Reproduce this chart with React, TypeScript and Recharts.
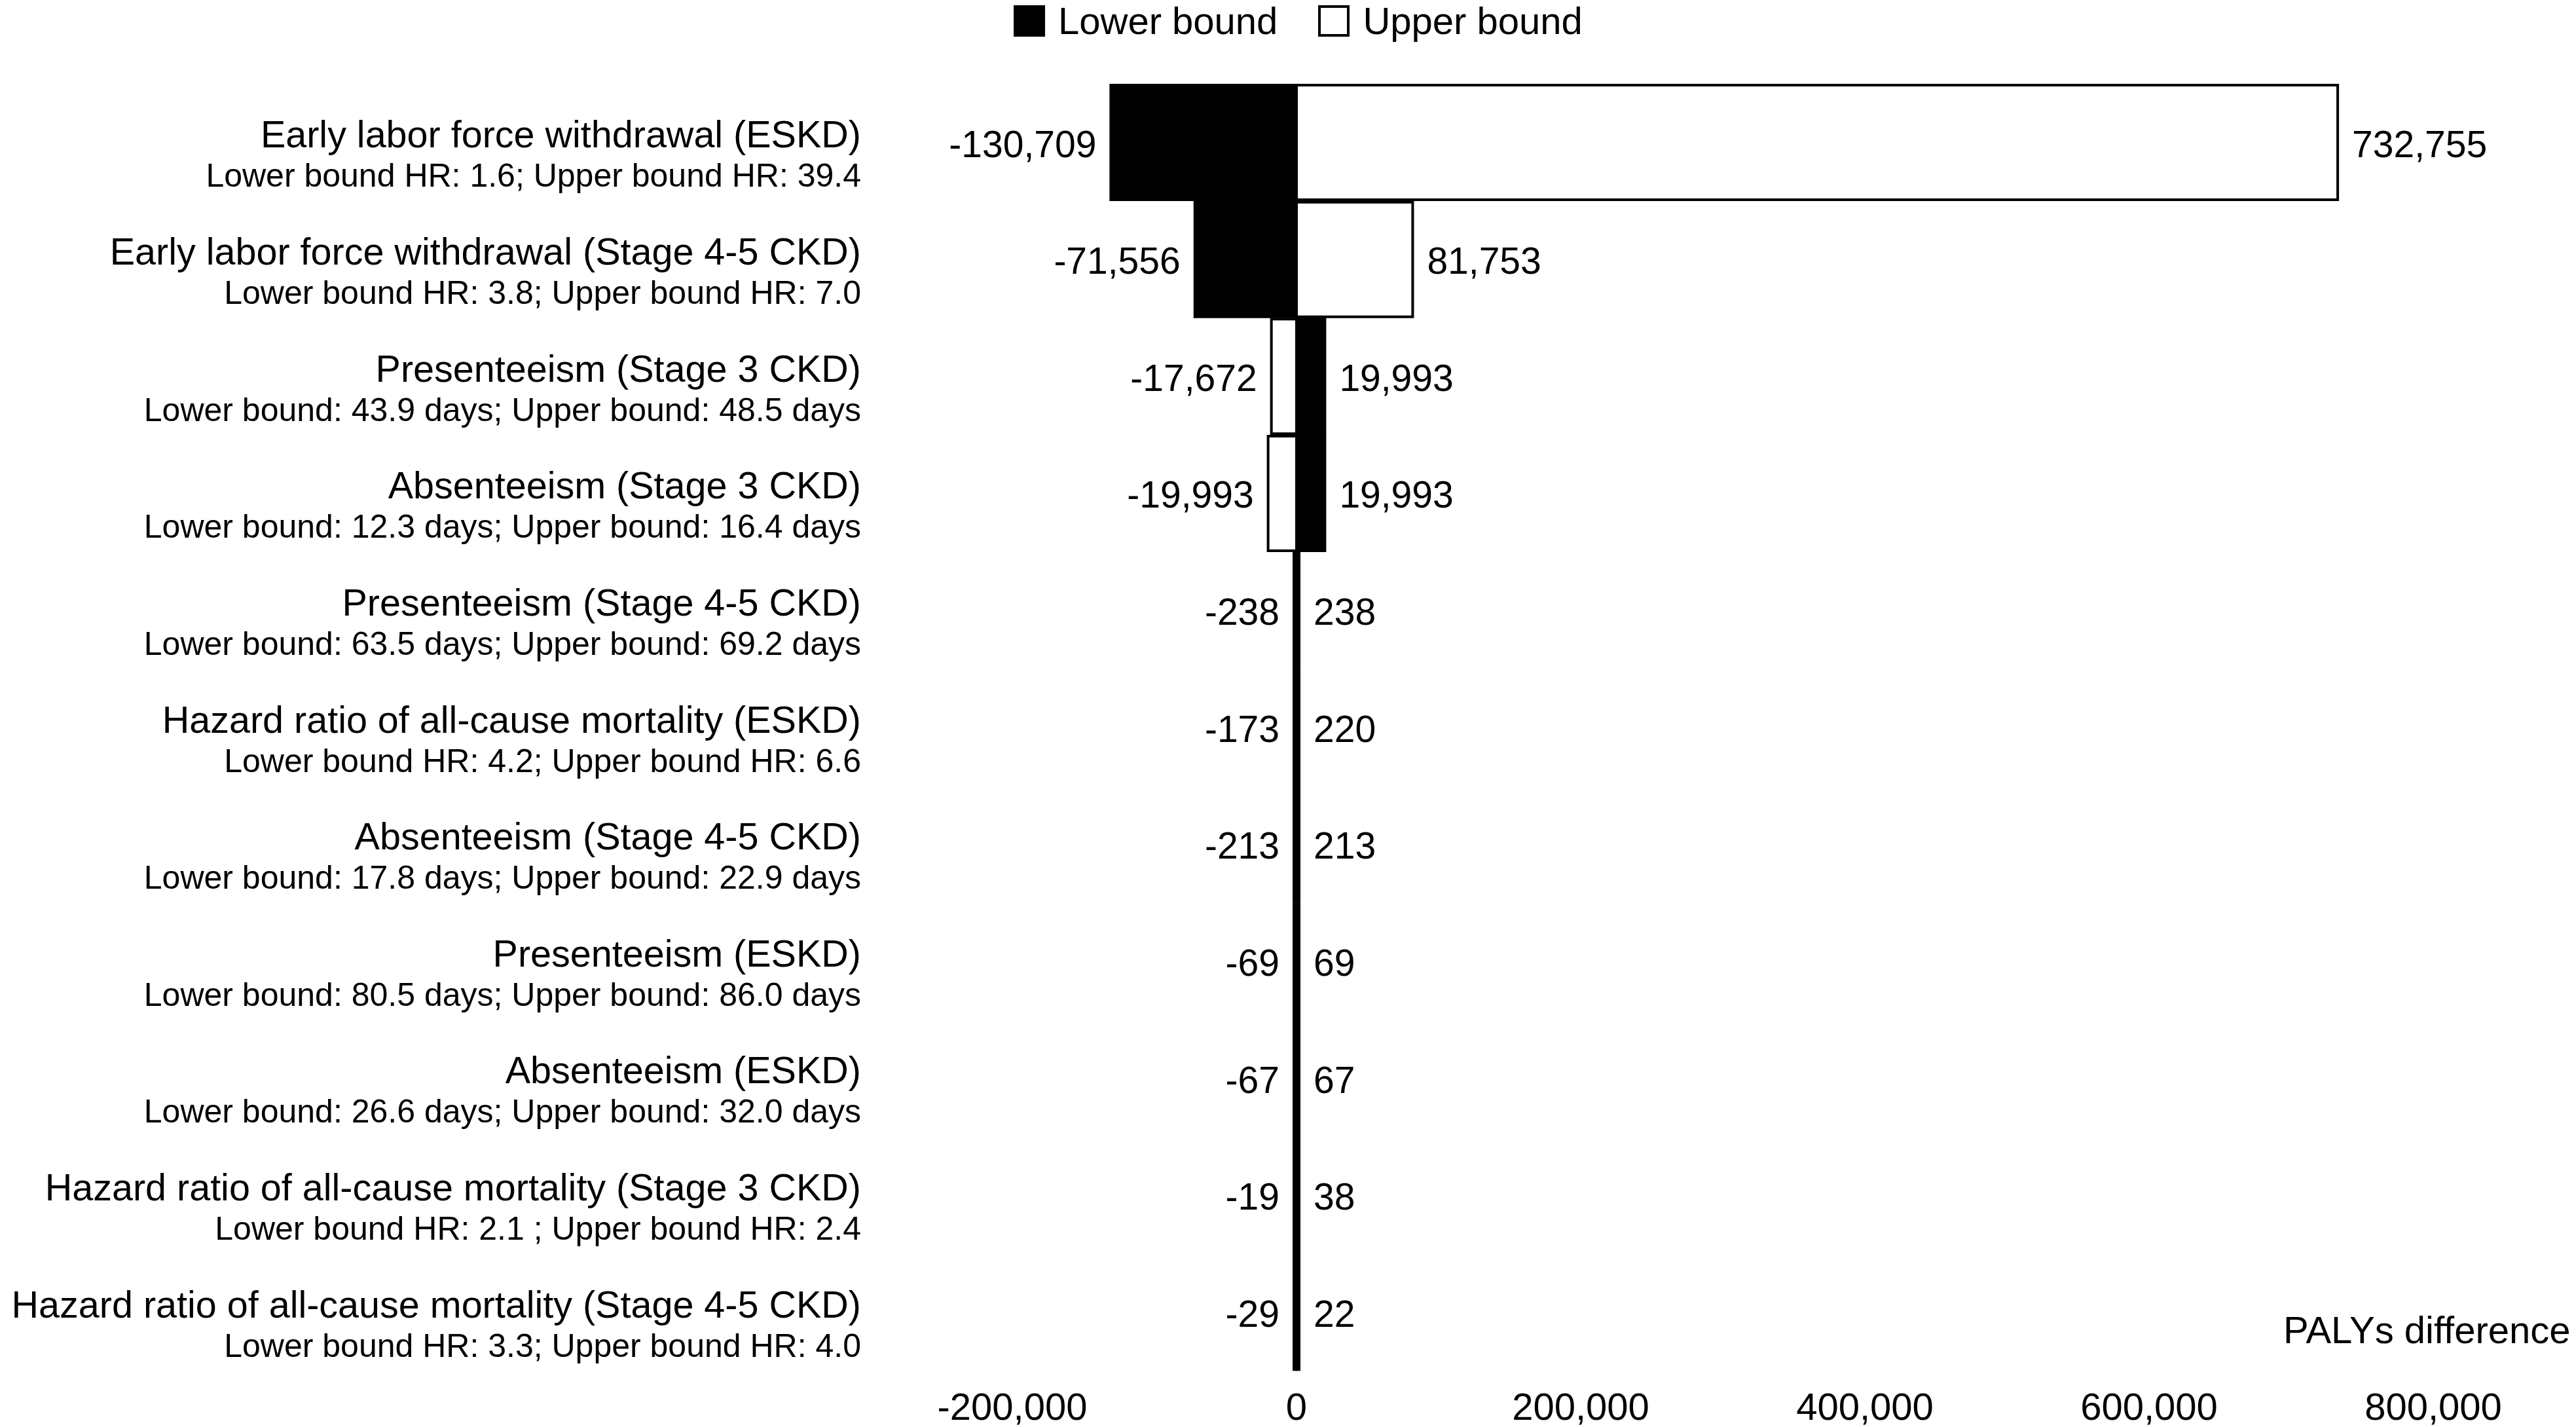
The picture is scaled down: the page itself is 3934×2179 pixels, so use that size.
import React from "react";
import { BarChart, Bar, XAxis, YAxis, Legend, LabelList, Label } from "recharts";

const FONT = '"Liberation Sans", Arial, Helvetica, sans-serif';

// parameters (top to bottom)
const names = [
  "Early labor force withdrawal (ESKD)",
  "Early labor force withdrawal (Stage 4-5 CKD)",
  "Presenteeism (Stage 3 CKD)",
  "Absenteeism (Stage 3 CKD)",
  "Presenteeism (Stage 4-5 CKD)",
  "Hazard ratio of all-cause mortality (ESKD)",
  "Absenteeism (Stage 4-5 CKD)",
  "Presenteeism (ESKD)",
  "Absenteeism (ESKD)",
  "Hazard ratio of all-cause mortality (Stage 3 CKD)",
  "Hazard ratio of all-cause mortality (Stage 4-5 CKD)",
];

const subtitles = [
  "Lower bound HR: 1.6; Upper bound HR: 39.4",
  "Lower bound HR: 3.8; Upper bound HR: 7.0",
  "Lower bound: 43.9 days; Upper bound: 48.5 days",
  "Lower bound: 12.3 days; Upper bound: 16.4 days",
  "Lower bound: 63.5 days; Upper bound: 69.2 days",
  "Lower bound HR: 4.2; Upper bound HR: 6.6",
  "Lower bound: 17.8 days; Upper bound: 22.9 days",
  "Lower bound: 80.5 days; Upper bound: 86.0 days",
  "Lower bound: 26.6 days; Upper bound: 32.0 days",
  "Lower bound HR: 2.1 ; Upper bound HR: 2.4",
  "Lower bound HR: 3.3; Upper bound HR: 4.0",
];

const lowerValues = [-130709, -71556, 19993, 19993, 238, -173, 213, 69, 67, -19, -29];
const upperValues = [732755, 81753, -17672, -19993, -238, 220, -213, -69, -67, 38, 22];

const xTicks = [-200000, 0, 200000, 400000, 600000, 800000];

const seriesNames = ["Lower bound", "Upper bound"];
const seriesFills = ["#000000", "#ffffff"];

const data = names.map((name, i) => ({
  name,
  lower: lowerValues[i],
  upper: upperValues[i],
}));

const fmt = (v: number) => v.toLocaleString("en-US");

const CategoryTick = (props: any) => {
  const { x, y, payload } = props;
  const idx = names.indexOf(payload.value);
  return (
    <g>
      <text x={x - 231} y={y + 8} textAnchor="end" fontSize={57.5} fontFamily={FONT} fill="#000">
        {payload.value}
      </text>
      <text x={x - 231} y={y + 68} textAnchor="end" fontSize={50} fontFamily={FONT} fill="#000">
        {subtitles[idx]}
      </text>
    </g>
  );
};

const renderValueLabel = (props: any) => {
  const vb = props.viewBox ?? props;
  const x = Number(vb.x ?? props.x);
  const w = Number(vb.width ?? props.width);
  const y = Number(vb.y ?? props.y);
  const h = Number(vb.height ?? props.height);
  const value = Number(props.value);
  const left = Math.min(x, x + w);
  const right = Math.max(x, x + w);
  const cy = y + h / 2;
  const neg = value < 0;
  return (
    <text
      x={neg ? left - 22 : right + 22}
      y={cy + 22}
      textAnchor={neg ? "end" : "start"}
      fontSize={57}
      fontFamily={FONT}
      fill="#000"
    >
      {fmt(value)}
    </text>
  );
};

const LegendContent = (props: any) => {
  const payload = props.payload || [];
  return (
    <div style={{ display: "flex", alignItems: "center", fontFamily: FONT, fontSize: 58, lineHeight: "48px" }}>
      {payload.map((p: any, i: number) => (
        <div key={i} style={{ display: "flex", alignItems: "center", marginRight: 62 }}>
          <div
            style={{
              width: 48,
              height: 48,
              boxSizing: "border-box",
              background: seriesFills[seriesNames.indexOf(p.value)],
              border: "4px solid #000",
              marginRight: 20,
            }}
          />
          <span style={{ color: "#000" }}>{p.value}</span>
        </div>
      ))}
    </div>
  );
};

const AxisTitle = (props: any) => {
  const vb = props.viewBox || {};
  return (
    <text
      x={vb.x + vb.width - 229}
      y={vb.y - 42}
      fontSize={58}
      fontFamily={FONT}
      fill="#000"
    >
      PALYs difference
    </text>
  );
};

export default function App() {
  return (
    <div style={{ width: 3926, height: 2171, background: "#fff", fontFamily: FONT }}>
      <BarChart
        width={3926}
        height={2171}
        data={data}
        layout="vertical"
        stackOffset="sign"
        barCategoryGap={2}
        margin={{ top: 120, right: 218, bottom: 0, left: 0 }}
      >
        <XAxis
          type="number"
          domain={[-200000, 800000]}
          ticks={xTicks}
          tickFormatter={fmt}
          axisLine={false}
          tickLine={false}
          tickSize={0}
          tickMargin={34}
          height={86}
          tick={{ fontSize: 58, fill: "#000", fontFamily: FONT }}
        >
          <Label content={AxisTitle} />
        </XAxis>
        <YAxis
          type="category"
          dataKey="name"
          width={1538}
          axisLine={false}
          tickLine={false}
          tickSize={0}
          tickMargin={0}
          interval={0}
          tick={CategoryTick}
        />
        <Legend
          layout="vertical"
          align="center"
          verticalAlign="middle"
          wrapperStyle={{ top: 0, left: 1540, width: "auto", height: 50 }}
          content={LegendContent}
        />
        <Bar
          dataKey="lower"
          name={seriesNames[0]}
          stackId="a"
          fill={seriesFills[0]}
          stroke="#000"
          strokeWidth={4}
          minPointSize={4}
          isAnimationActive={false}
        >
          <LabelList dataKey="lower" content={renderValueLabel} />
        </Bar>
        <Bar
          dataKey="upper"
          name={seriesNames[1]}
          stackId="a"
          fill={seriesFills[1]}
          stroke="#000"
          strokeWidth={4}
          minPointSize={4}
          isAnimationActive={false}
        >
          <LabelList dataKey="upper" content={renderValueLabel} />
        </Bar>
      </BarChart>
    </div>
  );
}
